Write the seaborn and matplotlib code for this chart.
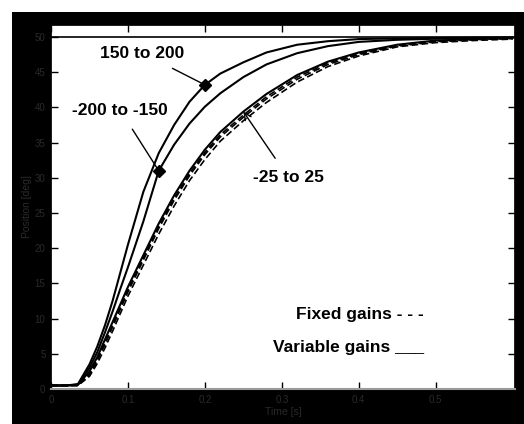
import numpy as np
import pandas as pd
import matplotlib
matplotlib.use("Agg")
import matplotlib.pyplot as plt
import seaborn as sns
from matplotlib.patches import Rectangle

sns.set_theme(style="white")
plt.rcParams['font.family'] = ['Liberation Sans', 'DejaVu Sans']

# ---- data ----
time_s = [0, 0.02, 0.035, 0.05, 0.06, 0.07, 0.08, 0.09, 0.10, 0.12, 0.14, 0.16,
          0.18, 0.20, 0.22, 0.25, 0.28, 0.32, 0.36, 0.40, 0.45, 0.50, 0.55, 0.60]
var_150_200 = [0.5, 0.5, 0.7, 3.5, 6, 9, 12.5, 16.5, 20.5, 28, 33.5, 37.5,
               40.8, 43.2, 44.8, 46.4, 47.8, 48.9, 49.4, 49.7, 49.8, 49.85, 49.9, 49.9]
var_m200_m150 = [0.5, 0.5, 0.6, 3, 5.2, 8, 11, 14.2, 17.3, 23.8, 31, 34.7,
                 37.7, 40.1, 42, 44.3, 46.1, 47.7, 48.7, 49.3, 49.6, 49.75, 49.85, 49.9]
var_m25_25 = [0.5, 0.5, 0.6, 2.5, 4.5, 7, 9.5, 12, 14.5, 19, 23.5, 27.5,
              31, 34, 36.5, 39.4, 41.9, 44.6, 46.5, 47.8, 48.9, 49.5, 49.7, 49.85]
fixed_a = [0.5, 0.5, 0.5, 2, 4, 6.3, 8.8, 11.3, 13.8, 18.3, 22.8, 26.8,
           30.3, 33.3, 35.8, 38.6, 41.2, 44, 46.1, 47.5, 48.7, 49.3, 49.6, 49.8]
fixed_b = [0.5, 0.5, 0.5, 1.8, 3.6, 5.8, 8.2, 10.7, 13.2, 17.6, 22, 26,
           29.6, 32.6, 35.2, 38.1, 40.7, 43.6, 45.8, 47.3, 48.6, 49.2, 49.5, 49.7]
fixed_c = [0.5, 0.5, 0.5, 2.2, 4.2, 6.6, 9.1, 11.6, 14.1, 18.6, 23.1, 27.1,
           30.6, 33.6, 36.1, 38.9, 41.5, 44.3, 46.3, 47.6, 48.8, 49.4, 49.65, 49.8]
setpoint = 50
x_ticks = [0, 0.1, 0.2, 0.3, 0.4, 0.5]
x_ticklabels = ["0", "0.1", "0.2", "0.3", "0.4", "0.5"]
y_ticks = [0, 5, 10, 15, 20, 25, 30, 35, 40, 45, 50]
y_ticklabels = ["0", "5", "10", "15", "20", "25", "30", "35", "40", "45", "50"]

fig = plt.figure(figsize=(5.24, 4.24), dpi=100, facecolor="black")
# white scan edge strips
fig.patches.append(Rectangle((0, 0), 12 / 524, 1, transform=fig.transFigure,
                             facecolor="white", edgecolor="none", zorder=-1))
fig.patches.append(Rectangle((0, 1 - 12 / 424), 1, 12 / 424, transform=fig.transFigure,
                             facecolor="white", edgecolor="none", zorder=-1))

ax = fig.add_axes([51 / 524, (424 - 389) / 424, (515 - 51) / 524, (389 - 25) / 424])
ax.set_facecolor("white")

for vals in (fixed_a, fixed_b, fixed_c):
    sns.lineplot(x=time_s, y=vals, ax=ax, color="black", lw=1.2,
                 linestyle=(0, (4, 2)), estimator=None, sort=False)
for vals in (var_150_200, var_m200_m150, var_m25_25):
    sns.lineplot(x=time_s, y=vals, ax=ax, color="black", lw=1.5,
                 estimator=None, sort=False)
ax.axhline(setpoint, color="black", lw=1.2)

ax.set_xlim(0, 0.603)
ax.set_ylim(0, 51.7)
ax.set_xticks(x_ticks)
ax.set_xticklabels(x_ticklabels)
ax.set_yticks(y_ticks)
ax.set_yticklabels(y_ticklabels)
ax.tick_params(direction="in", length=5, width=1, color="black",
               top=True, right=True, bottom=True, left=True,
               labelsize=7, labelcolor="#2a2a2a", pad=4)
ax.set_xlabel("Time [s]", color="#2a2a2a", fontsize=7.5, labelpad=2)
ax.set_ylabel("Position [deg]", color="#2a2a2a", fontsize=7.5, labelpad=2)
for side in ("left", "top", "right"):
    ax.spines[side].set_color("black")
ax.spines["bottom"].set_color("#9a9a9a")
ax.spines["bottom"].set_linewidth(1.5)

# annotations pointing to curves
iA = time_s.index(0.20)
iB = time_s.index(0.14)
iC = time_s.index(0.25)
txt = dict(fontsize=12.5, fontweight="bold", color="black", ha="center", va="center")
ax.annotate("150 to 200", xy=(time_s[iA], var_150_200[iA]), xytext=(0.119, 47.7),
            arrowprops=dict(arrowstyle="-", color="black", lw=1,
                            shrinkA=7, shrinkB=0), **txt)
ax.plot(time_s[iA], var_150_200[iA], marker="D", color="black", ms=6)
ax.annotate("-200 to -150", xy=(time_s[iB], var_m200_m150[iB]), xytext=(0.09, 39.6),
            arrowprops=dict(arrowstyle="-", color="black", lw=1,
                            shrinkA=7, shrinkB=0), **txt)
ax.plot(time_s[iB], var_m200_m150[iB], marker="D", color="black", ms=6)
ax.annotate("-25 to 25", xy=(time_s[iC], var_m25_25[iC]), xytext=(0.308, 30.1),
            arrowprops=dict(arrowstyle="->", color="black", lw=1,
                            shrinkA=7, shrinkB=0), **txt)

ax.text(0.485, 10.6, "Fixed gains - - -", fontsize=12.5, fontweight="bold",
        ha="right", va="center", color="black")
ax.text(0.485, 5.9, "Variable gains ___", fontsize=12.5, fontweight="bold",
        ha="right", va="center", color="black")

fig.savefig("out.png", dpi=100, facecolor=fig.get_facecolor())
